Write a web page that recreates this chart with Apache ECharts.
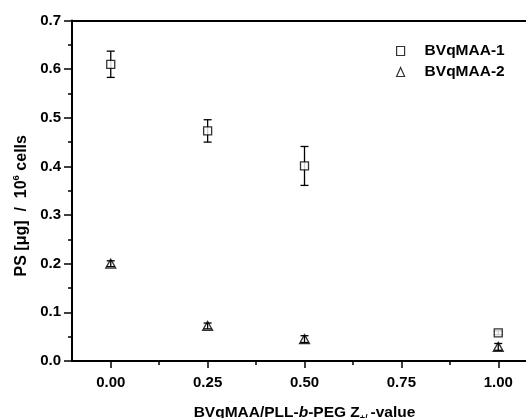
<!DOCTYPE html>
<html>
<head>
<meta charset="utf-8">
<script src="https://cdn.jsdelivr.net/npm/echarts@6/dist/echarts.min.js"></script>
<style>html,body{margin:0;padding:0;background:#fff;}#c{width:526px;height:418px;}</style>
</head>
<body>
<div id="c"></div>
<script>
var xValues = [0.00, 0.25, 0.50, 1.00];
var s1Name = 'BVqMAA-1';
var s1Values = [0.610, 0.473, 0.401, 0.058];
var s1Errors = [0.027, 0.023, 0.040, 0.004];
var s2Name = 'BVqMAA-2';
var s2Values = [0.200, 0.072, 0.045, 0.029];
var s2Errors = [0.006, 0.006, 0.007, 0.007];
var xMajorTicks = [0.00, 0.25, 0.50, 0.75, 1.00];
var xMinorTicks = [0.125, 0.375, 0.625, 0.875];

function pairs(xs, ys){ return xs.map(function(x,i){ return [x, ys[i]]; }); }
function errData(xs, ys, es){ return xs.map(function(x,i){ return [x, ys[i]-es[i], ys[i]+es[i]]; }); }

function errRender(params, api){
  var x = api.value(0), lo = api.value(1), hi = api.value(2);
  var pLo = api.coord([x, lo]), pHi = api.coord([x, hi]);
  var w = 4;
  var st = {stroke:'#000', lineWidth:1.3};
  return {type:'group', children:[
    {type:'line', shape:{x1:pLo[0], y1:pLo[1], x2:pHi[0], y2:pHi[1]}, style:st},
    {type:'line', shape:{x1:pLo[0]-w, y1:pLo[1], x2:pLo[0]+w, y2:pLo[1]}, style:st},
    {type:'line', shape:{x1:pHi[0]-w, y1:pHi[1], x2:pHi[0]+w, y2:pHi[1]}, style:st}
  ]};
}

var font = 'Liberation Sans, Arial, sans-serif';
var FS = 15;
var XMIN = -0.1, XMAX = 1.1;
var chart = echarts.init(document.getElementById('c'), null, {renderer:'canvas'});
chart.setOption({
  animation:false,
  backgroundColor:'#fff',
  grid:{left:72, top:20.5, right:-11, bottom:57, show:false, outerBoundsMode:'none', containLabel:false},
  legend:{
    orient:'vertical', left:391, top:38, itemWidth:8, itemHeight:9, itemGap:5,
    textStyle:{fontFamily:font, fontWeight:'bold', fontSize:15.5, color:'#000', padding:[0,0,0,15]},
    data:[
      {name:s1Name, icon:'rect', itemStyle:{color:'#fff', borderColor:'#000', borderWidth:1.2}},
      {name:s2Name, icon:'triangle', itemStyle:{color:'#fff', borderColor:'#000', borderWidth:1.2}}
    ]
  },
  xAxis:[{
    type:'value', min:XMIN, max:XMAX, position:'bottom',
    axisLine:{show:true, onZero:false, lineStyle:{color:'#000', width:2}},
    axisTick:{show:true, inside:false, length:7, customValues:xMajorTicks, lineStyle:{color:'#000', width:1.5}},
    splitLine:{show:false},
    axisLabel:{
      fontFamily:font, fontWeight:'bold', fontSize:FS, color:'#000', margin:14,
      customValues:xMajorTicks,
      formatter:function(v){ return v.toFixed(2); }
    },
    name:'BVqMAA/PLL-{i|b}-PEG Z{sub|+/-}-value',
    nameLocation:'middle', nameGap:41,
    nameTextStyle:{fontFamily:font, fontWeight:'bold', fontSize:15.5, color:'#000',
      rich:{i:{fontFamily:font, fontWeight:'bold', fontStyle:'italic', fontSize:15.5, color:'#000'},
            sub:{fontFamily:font, fontWeight:'bold', fontSize:9, color:'#000', verticalAlign:'top', padding:[12,0,0,0]}}}
  },{
    type:'value', min:XMIN, max:XMAX, position:'bottom',
    axisLine:{show:false, onZero:false},
    axisTick:{show:true, inside:false, length:4, customValues:xMinorTicks, lineStyle:{color:'#000', width:1.5}},
    axisLabel:{show:false, customValues:xMinorTicks},
    splitLine:{show:false}
  },{
    type:'value', min:XMIN, max:XMAX, position:'top',
    axisLine:{show:true, onZero:false, lineStyle:{color:'#000', width:2}},
    axisTick:{show:false}, axisLabel:{show:false}, splitLine:{show:false}
  }],
  yAxis:{
    type:'value', min:0, max:0.7, interval:0.1,
    axisLine:{show:true, onZero:false, lineStyle:{color:'#000', width:2}},
    axisTick:{show:true, inside:false, length:8, lineStyle:{color:'#000', width:1.5}},
    minorTick:{show:true, splitNumber:2, length:4, lineStyle:{color:'#000', width:1.5}},
    splitLine:{show:false},
    axisLabel:{fontFamily:font, fontWeight:'bold', fontSize:FS, color:'#000', margin:11,
      formatter:function(v){ return v.toFixed(1); }},
    name:'PS [μg]  /  10{sup|6} cells',
    nameLocation:'middle', nameGap:34, nameRotate:90,
    nameTextStyle:{fontFamily:font, fontWeight:'bold', fontSize:16, color:'#000', padding:[0,30,0,0],
      rich:{sup:{fontFamily:font, fontWeight:'bold', fontSize:9.5, color:'#000', verticalAlign:'bottom', padding:[0,0,9,0]}}}
  },
  series:[
    {type:'custom', name:s1Name+'err', renderItem:errRender, data:errData(xValues, s1Values, s1Errors), z:1, encode:{x:0, y:[1,2]}, silent:true},
    {type:'scatter', name:s1Name, symbol:'rect', symbolSize:8, data:pairs(xValues, s1Values), z:2,
      itemStyle:{color:'#fff', borderColor:'#000', borderWidth:1.3}},
    {type:'scatter', name:s2Name, symbol:'triangle', symbolSize:[10,9], data:pairs(xValues, s2Values), z:2,
      itemStyle:{color:'#fff', borderColor:'#000', borderWidth:1.3}},
    {type:'custom', name:s2Name+'err', renderItem:errRender, data:errData(xValues, s2Values, s2Errors), z:3, encode:{x:0, y:[1,2]}, silent:true}
  ]
});
</script>
</body>
</html>
